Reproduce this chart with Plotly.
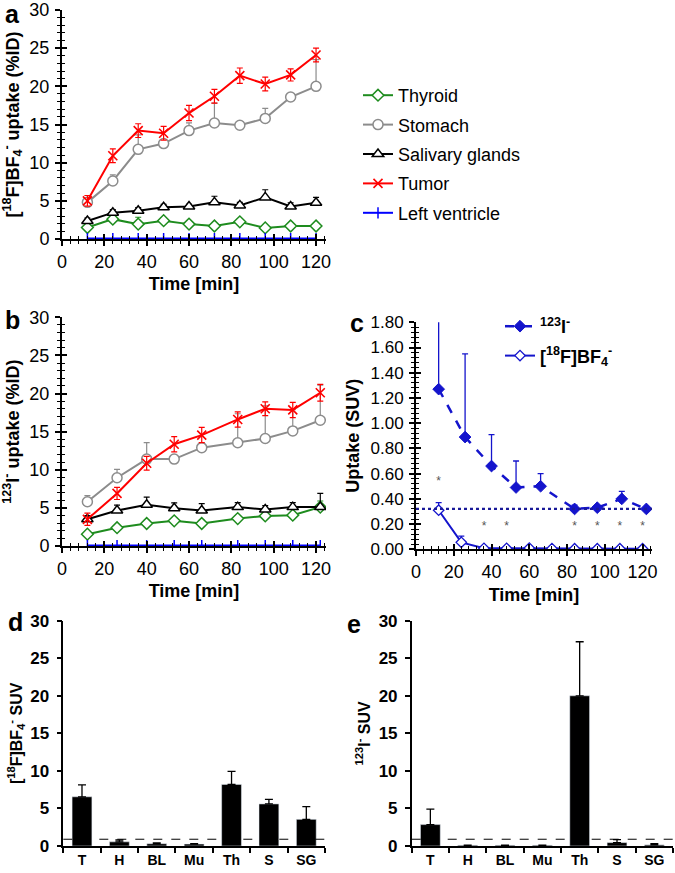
import plotly.graph_objects as go

W, H = 675, 873
FONT = "Arial, 'Liberation Sans', sans-serif"

# ---------------- data ----------------
# Panel a: [18F]BF4- uptake (%ID)
t_a = [12, 24, 36, 48, 60, 72, 84, 96, 108, 120]
a_thyroid = [1.5, 2.6, 1.95, 2.4, 1.95, 1.7, 2.25, 1.45, 1.7, 1.7]
a_thyroid_err = [0.2, 0.3, 0.9, 0.4, 0.2, 0.2, 0.4, 0.2, 0.2, 0.2]
a_stomach = [4.8, 7.6, 11.75, 12.5, 14.2, 15.2, 14.9, 15.8, 18.6, 20.0]
a_stomach_err = [0.5, 0.8, 1.9, 0.4, 1.0, 2.6, 0.3, 1.3, 0.4, 3.5]
a_saliv = [2.35, 3.45, 3.7, 4.15, 4.25, 4.8, 4.4, 5.45, 4.25, 4.75]
a_saliv_err = [0.4, 0.4, 0.4, 0.4, 0.3, 0.8, 0.4, 1.0, 0.5, 0.7]
a_tumor = [5.0, 10.9, 14.2, 13.85, 16.5, 18.7, 21.4, 20.3, 21.5, 24.1]
a_tumor_err = [0.7, 0.9, 0.9, 0.9, 1.0, 0.9, 1.0, 0.9, 0.8, 0.9]
a_lv = [0.05, 0.05, 0.05, 0.05, 0.05, 0.05, 0.05, 0.05, 0.05, 0.05]

# Panel b: 123I- uptake (%ID)
t_b = [12, 26, 40, 53, 66, 83, 96, 109, 122]
b_thyroid = [1.55, 2.4, 2.95, 3.3, 2.95, 3.6, 3.95, 4.05, 5.1]
b_thyroid_err = [0.3, 0.4, 0.4, 0.4, 0.4, 0.4, 0.3, 0.3, 0.8]
b_stomach = [5.8, 8.95, 11.4, 11.4, 12.9, 13.55, 14.1, 15.1, 16.5]
b_stomach_err = [0.8, 1.1, 2.15, 0.5, 0.6, 3.8, 4.3, 2.8, 4.6]
b_saliv = [3.5, 4.65, 5.4, 4.95, 4.65, 5.1, 4.8, 5.1, 5.1]
b_saliv_err = [0.5, 0.7, 1.0, 0.7, 0.9, 0.6, 0.5, 0.6, 1.8]
b_tumor = [3.5, 6.9, 10.85, 13.35, 14.55, 16.6, 18.0, 17.85, 20.1]
b_tumor_err = [0.8, 0.8, 0.9, 1.0, 1.0, 1.0, 0.9, 1.0, 1.1]
b_lv = [0.05, 0.05, 0.05, 0.05, 0.05, 0.05, 0.05, 0.05, 0.05]

# Panel c: uptake (SUV)
t_c_iodide = [12, 26, 40, 53, 66, 84, 96, 109, 122]
c_iodide = [1.27, 0.89, 0.66, 0.49, 0.50, 0.32, 0.33, 0.40, 0.32]
c_iodide_err = [0.55, 0.66, 0.25, 0.21, 0.10, 0.03, 0.01, 0.06, 0.01]
t_c_bf4 = [12, 24, 36, 48, 60, 72, 84, 96, 108, 120]
c_bf4 = [0.31, 0.055, 0.008, 0.008, 0.01, 0.006, 0.005, 0.005, 0.005, 0.005]
c_bf4_err = [0.06, 0.05, 0.004, 0.003, 0.004, 0.003, 0.002, 0.002, 0.002, 0.002]
c_threshold = 0.32
star_t = [12, 36, 48, 84, 96, 108, 120]
star_y = [0.53, 0.18, 0.18, 0.18, 0.18, 0.18, 0.18]

# Panels d, e: organ SUV
organs = ["T", "H", "BL", "Mu", "Th", "S", "SG"]
d_suv = [6.55, 0.55, 0.3, 0.25, 8.2, 5.6, 3.55]
d_err = [1.6, 0.25, 0.1, 0.05, 1.75, 0.6, 1.7]
e_suv = [2.85, 0.1, 0.1, 0.1, 20.0, 0.45, 0.15]
e_err = [2.05, 0.0, 0.0, 0.0, 7.2, 0.4, 0.15]
suv_ref = 0.9

# ---------------- helpers ----------------
def xd(p0, p1):
    return [p0 / W, p1 / W]

def yd(top, bottom):
    return [1 - bottom / H, 1 - top / H]

RED, GRAY, BLACK, GREEN, BLUE = "#FF0000", "#8C8C8C", "#000000", "#1E8C1E", "#0000FF"
CBLUE = "#1414CC"

fig = go.Figure()

def up_err(arr, color, width=3, thick=1.2):
    return dict(type="data", array=arr, arrayminus=[0] * len(arr), symmetric=False,
                color=color, thickness=thick, width=width)

def sym_err(arr, color, width=3, thick=1.2):
    return dict(type="data", array=arr, symmetric=True, color=color,
                thickness=thick, width=width)

def organ_traces(t, thy, thy_e, sto, sto_e, sal, sal_e, tum, tum_e, lv, xa, ya, legend):
    fig.add_trace(go.Scatter(x=t, y=thy, name="Thyroid", mode="lines+markers", xaxis=xa, yaxis=ya,
                             line=dict(color=GREEN, width=2), showlegend=legend, legendgroup="g1",
                             marker=dict(symbol="diamond", size=9, color="white", line=dict(color=GREEN, width=1.5)),
                             error_y=up_err(thy_e, GREEN)))
    fig.add_trace(go.Scatter(x=t, y=sto, name="Stomach", mode="lines+markers", xaxis=xa, yaxis=ya,
                             line=dict(color=GRAY, width=2), showlegend=legend, legendgroup="g2",
                             marker=dict(symbol="circle", size=10, color="white", line=dict(color=GRAY, width=1.5)),
                             error_y=up_err(sto_e, GRAY)))
    fig.add_trace(go.Scatter(x=t, y=sal, name="Salivary glands", mode="lines+markers", xaxis=xa, yaxis=ya,
                             line=dict(color=BLACK, width=2), showlegend=legend, legendgroup="g3",
                             marker=dict(symbol="triangle-up", size=10, color="white", line=dict(color=BLACK, width=1.5)),
                             error_y=up_err(sal_e, BLACK)))
    fig.add_trace(go.Scatter(x=t, y=tum, name="Tumor", mode="lines+markers", xaxis=xa, yaxis=ya,
                             line=dict(color=RED, width=2), showlegend=legend, legendgroup="g4",
                             marker=dict(symbol="x-thin", size=9, color=RED, line=dict(color=RED, width=1.6)),
                             error_y=sym_err(tum_e, RED)))
    fig.add_trace(go.Scatter(x=t, y=lv, name="Left ventricle", mode="lines+markers", xaxis=xa, yaxis=ya,
                             line=dict(color=BLUE, width=2), showlegend=legend, legendgroup="g5",
                             marker=dict(symbol="line-ns", size=8, color=BLUE, line=dict(color=BLUE, width=1.5))))

organ_traces(t_a, a_thyroid, a_thyroid_err, a_stomach, a_stomach_err, a_saliv, a_saliv_err,
             a_tumor, a_tumor_err, a_lv, "x", "y", True)
organ_traces(t_b, b_thyroid, b_thyroid_err, b_stomach, b_stomach_err, b_saliv, b_saliv_err,
             b_tumor, b_tumor_err, b_lv, "x2", "y2", False)

# Panel c
fig.add_trace(go.Scatter(x=t_c_iodide, y=c_iodide, name="<b><sup>123</sup>I<sup>-</sup></b>", mode="lines+markers",
                         xaxis="x3", yaxis="y3", legend="legend2", legendgroup="c1",
                         line=dict(color=CBLUE, width=2.5, dash="dash"),
                         marker=dict(symbol="diamond", size=9, color=CBLUE, line=dict(color=CBLUE, width=1)),
                         error_y=up_err(c_iodide_err, CBLUE, width=3, thick=1.3)))
fig.add_trace(go.Scatter(x=t_c_bf4, y=c_bf4, name="<b>[<sup>18</sup>F]BF<sub>4</sub><sup>-</sup></b>",
                         mode="lines+markers", xaxis="x3", yaxis="y3", legend="legend2", legendgroup="c2",
                         line=dict(color=CBLUE, width=2),
                         marker=dict(symbol="diamond", size=8, color="white", line=dict(color=CBLUE, width=1.3)),
                         error_y=up_err(c_bf4_err, CBLUE, width=3, thick=1.3)))
fig.add_trace(go.Scatter(x=star_t, y=star_y, mode="text", text=["*"] * len(star_t), xaxis="x3", yaxis="y3",
                         textfont=dict(size=12, color="#555555", family=FONT), showlegend=False, hoverinfo="skip"))

# Panels d, e
fig.add_trace(go.Bar(x=organs, y=d_suv, xaxis="x4", yaxis="y4", marker=dict(color="black"), width=0.53,
                     error_y=up_err(d_err, "black", width=4, thick=1.3), showlegend=False))
fig.add_trace(go.Bar(x=organs, y=e_suv, xaxis="x5", yaxis="y5", marker=dict(color="black"), width=0.53,
                     error_y=up_err(e_err, "black", width=4, thick=1.3), showlegend=False))

# empty traces so the tick-overlay axes get drawn
for xa, ya in [("x6", "y6"), ("x7", "y7"), ("x8", "y8")]:
    fig.add_trace(go.Scatter(x=[], y=[], xaxis=xa, yaxis=ya, showlegend=False, hoverinfo="skip"))

# ---------------- axes ----------------
TICKF = dict(family=FONT, size=18, color="black")
TITF = dict(family=FONT, size=18, color="black")

def lin_x(domain, rng, anchor):
    return dict(domain=domain, range=rng, anchor=anchor, tick0=0, dtick=20, showline=True, linecolor="black",
                linewidth=2, ticks="outside", ticklen=5, tickwidth=2, tickcolor="black",
                minor=dict(ticks="outside", ticklen=3, tickwidth=1.2, dtick=4, tickcolor="black"),
                showgrid=False, zeroline=False, tickfont=TICKF, automargin=False,
                title=dict(text="<b>Time [min]</b>", font=TITF, standoff=7))

def lin_y(domain, rng, anchor, dtick, mdtick, title, fmt=None, tsize=18):
    d = dict(domain=domain, range=rng, anchor=anchor, tick0=0, dtick=dtick, showline=True, linecolor="black",
             linewidth=2, ticks="outside", ticklen=5, tickwidth=2, tickcolor="black",
             minor=dict(ticks="outside", ticklen=3, tickwidth=1.2, dtick=mdtick, tickcolor="black"),
             showgrid=False, zeroline=False, tickfont=dict(family=FONT, size=tsize, color="black"),
             automargin=False, ticklabelstandoff=2,
             title=dict(text=title, font=TITF, standoff=6))
    if fmt:
        d["tickformat"] = fmt
    return d

def overlay_x(base, rng, anchor, mdtick, dtick):
    return dict(overlaying=base, range=rng, anchor=anchor, tick0=0, dtick=dtick, showline=False,
                ticks="inside", ticklen=5, tickwidth=2, tickcolor="black", showticklabels=False,
                minor=dict(ticks="inside", ticklen=3, tickwidth=1.2, dtick=mdtick, tickcolor="black"),
                showgrid=False, zeroline=False, automargin=False)

def overlay_y(base, rng, anchor, mdtick, dtick):
    return dict(overlaying=base, range=rng, anchor=anchor, tick0=0, dtick=dtick, showline=False,
                ticks="inside", ticklen=5, tickwidth=2, tickcolor="black", showticklabels=False,
                minor=dict(ticks="inside", ticklen=3, tickwidth=1.2, dtick=mdtick, tickcolor="black"),
                showgrid=False, zeroline=False, automargin=False)

XR = [0, 124.7]
ya_dom = yd(10, 239)
yb_dom = yd(317.3, 546)
yc_dom = yd(322.3, 549.3)
yde_dom = yd(620.7, 846)

BOLDF = dict(family=FONT, size=16, color="black")

def bar_x(domain, anchor):
    return dict(domain=domain, anchor=anchor, type="category", range=[-0.5, 6.5], tickson="boundaries",
                ticks="outside", ticklen=5, tickwidth=1.5, tickcolor="black", showline=True, linecolor="black",
                linewidth=1.5, showgrid=False, zeroline=False, automargin=False,
                tickfont=dict(family=FONT, size=14, color="black"),
                tickvals=organs, ticktext=["<b>%s</b>" % o for o in organs])

def bar_y(domain, anchor, title):
    return dict(domain=domain, anchor=anchor, range=[0, 30], dtick=5, tick0=0, showline=True, linecolor="black",
                linewidth=1.5, ticks="outside", ticklen=5, tickwidth=1.5, tickcolor="black",
                showgrid=False, zeroline=False, automargin=False, ticklabelstandoff=4,
                tickfont=dict(family=FONT, size=17, color="black"),
                tickvals=[0, 5, 10, 15, 20, 25, 30], ticktext=["<b>%d</b>" % v for v in [0, 5, 10, 15, 20, 25, 30]],
                title=dict(text=title, font=BOLDF, standoff=4))

fig.update_layout(
    xaxis=lin_x(xd(62, 326), XR, "y"),
    yaxis=lin_y(ya_dom, [0, 30], "x", 5, 1,
                "<b>[<sup>18</sup>F]BF<sub>4</sub><sup>-</sup> uptake (%ID)</b>"),
    xaxis2=lin_x(xd(62, 326), XR, "y2"),
    yaxis2=lin_y(yb_dom, [0, 30], "x2", 5, 1, "<b><sup>123</sup>I<sup>-</sup> uptake (%ID)</b>"),
    xaxis3=lin_x(xd(416, 652), [0, 125], "y3"),
    yaxis3=lin_y(yc_dom, [0, 1.8], "x3", 0.2, 0.04, "<b>Uptake (SUV)</b>", fmt=".2f", tsize=17),
    xaxis4=bar_x(xd(63.3, 325), "y4"),
    yaxis4=bar_y(yde_dom, "x4", "<b>[<sup>18</sup>F]BF<sub>4</sub><sup>-</sup> SUV</b>"),
    xaxis5=bar_x(xd(411.7, 673), "y5"),
    yaxis5=bar_y(yde_dom, "x5", "<b><sup>123</sup>I<sup>-</sup> SUV</b>"),
    xaxis6=overlay_x("x", XR, "y6", 4, 20),
    yaxis6=overlay_y("y", [0, 30], "x6", 1, 5),
    xaxis7=overlay_x("x2", XR, "y7", 4, 20),
    yaxis7=overlay_y("y2", [0, 30], "x7", 1, 5),
    xaxis8=overlay_x("x3", [0, 125], "y8", 4, 20),
    yaxis8=overlay_y("y3", [0, 1.8], "x8", 0.04, 0.2),
)

shapes = [
    dict(type="line", xref="x3", yref="y3", x0=0, x1=125, y0=c_threshold, y1=c_threshold,
         line=dict(color="#1A1A99", width=2.2, dash="dot")),
    dict(type="line", xref="x4 domain", yref="y4", x0=0, x1=1, y0=suv_ref, y1=suv_ref,
         line=dict(color="black", width=1, dash="dash")),
    dict(type="line", xref="x5 domain", yref="y5", x0=0, x1=1, y0=suv_ref, y1=suv_ref,
         line=dict(color="black", width=1, dash="dash")),
]

letters = [("a", 12, 14), ("b", 12, 320), ("c", 357, 323), ("d", 15, 622), ("e", 354, 624)]
annotations = [dict(text="<b>%s</b>" % s, x=px / W, y=1 - py / H, xref="paper", yref="paper",
                    showarrow=False, xanchor="center", yanchor="middle",
                    font=dict(family=FONT, size=25, color="black")) for s, px, py in letters]

fig.update_layout(
    width=W, height=H, margin=dict(l=0, r=0, t=0, b=0, autoexpand=False),
    paper_bgcolor="white", plot_bgcolor="rgba(0,0,0,0)",
    font=dict(family=FONT, color="black"),
    shapes=shapes, annotations=annotations,
    legend=dict(x=358 / W, y=1 - 77 / H, xanchor="left", yanchor="top", bgcolor="rgba(0,0,0,0)",
                font=dict(family=FONT, size=18, color="black"), tracegroupgap=3, itemwidth=30),
    legend2=dict(x=500 / W, y=1 - 308 / H, xanchor="left", yanchor="top", bgcolor="rgba(0,0,0,0)",
                 font=dict(family=FONT, size=18, color="black"), tracegroupgap=3, itemwidth=30),
    showlegend=True,
    bargap=0.47,
)

fig.write_html("out.html", config={"displayModeBar": False},
               post_script="document.body.style.margin='0px';")
